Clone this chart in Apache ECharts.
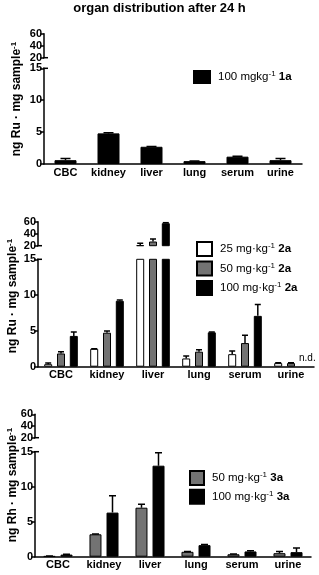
<!DOCTYPE html>
<html><head><meta charset="utf-8">
<script src="https://cdn.jsdelivr.net/npm/echarts@6/dist/echarts.min.js"></script>
<style>html,body{margin:0;padding:0;background:#fff}#c{width:319px;height:575px}</style>
</head><body><div id="c"></div>
<script>
// ---------- data ----------
const categories = ['CBC', 'kidney', 'liver', 'lung', 'serum', 'urine'];
const upperTicks = [20, 40, 60];
const lowerTicks = [0, 5, 10, 15];

// panel 1: Ru, compound 1a
const p1_100_mean = [0.6, 4.8, 2.7, 0.45, 1.15, 0.6];
const p1_100_sd   = [0.25, 0.1, 0.05, 0.03, 0.08, 0.25];

// panel 2: Ru, compound 2a
const p2_25_mean  = [0.35, 2.5, 21, 1.15, 1.75, 0.5];
const p2_25_sd    = [0.15, 0.02, 3, 0.35, 0.45, 0.05];
const p2_50_mean  = [1.85, 4.75, 27, 2.1, 3.3, 0.5];
const p2_50_sd    = [0.25, 0.25, 4, 0.25, 1.1, 0.05];
const p2_100_mean = [4.3, 9.2, 57.5, 4.8, 7.1, null];
const p2_100_sd   = [0.55, 0.1, 1, 0.05, 1.6, null];

// panel 3: Rh, compound 3a
const p3_50_mean  = [0.08, 3.2, 7.0, 0.7, 0.35, 0.5];
const p3_50_sd    = [0.02, 0.05, 0.5, 0.05, 0.05, 0.25];
const p3_100_mean = [0.3, 6.3, 13.0, 1.65, 0.75, 0.65];
const p3_100_sd   = [0.05, 2.4, 1.85, 0.1, 0.1, 0.6];

const title = 'organ distribution after 24 h';
const yNames = ['ng Ru · mg sample', 'ng Ru · mg sample', 'ng Rh · mg sample'];
const names1 = ['100 mgkg-1 1a'];
const names2 = ['25 mg·kg-1 2a', '50 mg·kg-1 2a', '100 mg·kg-1 2a'];
const names3 = ['50 mg·kg-1 3a', '100 mg·kg-1 3a'];
const ndLabel = 'n.d.';

// ---------- layout / style ----------
const FONT = '"Liberation Sans", Arial, sans-serif';
const BLACK = '#000', GRAY = '#737373', WHITE = '#fff';

const panels = [
  { left: 44, width: 258, up: [33.7, 24], low: [68.3, 95.7], barWidth: 22, barGap: '0%', cap: 10,
    series: [{ name: names1[0], mean: p1_100_mean, sd: p1_100_sd, color: BLACK, off: 0 }] },
  { left: 38, width: 276, up: [221.7, 24], low: [259.3, 107.4], barWidth: 8, barGap: '60%', cap: 6,
    series: [
      { name: names2[0], mean: p2_25_mean, sd: p2_25_sd, color: WHITE, off: -12.8 },
      { name: names2[1], mean: p2_50_mean, sd: p2_50_sd, color: GRAY, off: 0 },
      { name: names2[2], mean: p2_100_mean, sd: p2_100_sd, color: BLACK, off: 12.8 }] },
  { left: 35, width: 276, up: [414.3, 23.4], low: [451.7, 105], barWidth: 12, barGap: '42%', cap: 7,
    series: [
      { name: names3[0], mean: p3_50_mean, sd: p3_50_sd, color: GRAY, off: -8.5 },
      { name: names3[1], mean: p3_100_mean, sd: p3_100_sd, color: BLACK, off: 8.5 }] }
];

const grid = [], xAxis = [], yAxis = [], series = [];
const axisLabelStyle = { color: '#000', fontWeight: 'bold', fontSize: 11, fontFamily: FONT };
const lineStyle = { color: '#000', width: 1.5 };

function errRender(off, capW) {
  return function (params, api) {
    const x = api.value(0), v = api.value(1), e = api.value(2);
    const p0 = api.coord([x, v]), p1 = api.coord([x, e]);
    const cx = p0[0] + off;
    const st = { stroke: '#000', lineWidth: 1.5, fill: null };
    return { type: 'group', children: [
      { type: 'line', shape: { x1: cx, y1: p0[1], x2: cx, y2: p1[1] }, style: st },
      { type: 'line', shape: { x1: cx - capW / 2, y1: p1[1], x2: cx + capW / 2, y2: p1[1] }, style: st }
    ] };
  };
}

panels.forEach((p, pi) => {
  [p.up, p.low].forEach((g, gi) => {
    const idx = grid.length;
    grid.push({ left: p.left, top: g[0], width: p.width, height: g[1] });
    xAxis.push({
      type: 'category', gridIndex: idx, data: categories, show: gi === 1,
      axisLine: { lineStyle }, axisTick: { alignWithLabel: true, length: 4, lineStyle },
      axisLabel: Object.assign({ margin: 3, interval: 0 }, axisLabelStyle)
    });
    const isUp = gi === 0;
    yAxis.push({
      type: 'value', gridIndex: idx,
      min: isUp ? upperTicks[0] : lowerTicks[0],
      max: isUp ? upperTicks[upperTicks.length - 1] : lowerTicks[lowerTicks.length - 1],
      interval: isUp ? upperTicks[1] - upperTicks[0] : lowerTicks[1] - lowerTicks[0],
      splitLine: { show: false },
      axisLine: { show: true, lineStyle }, axisTick: { show: true, length: 4, lineStyle },
      axisLabel: Object.assign({ margin: 2 }, axisLabelStyle)
    });
    p.series.forEach(s => {
      series.push({
        type: 'bar', name: s.name, xAxisIndex: idx, yAxisIndex: idx,
        data: s.mean, barWidth: p.barWidth, barGap: p.barGap, clip: true,
        itemStyle: { color: s.color, borderColor: '#000', borderWidth: 1 },
        emphasis: { disabled: true }, animation: false
      });
    });
    p.series.forEach(s => {
      const d = [];
      s.mean.forEach((m, i) => { if (m != null && s.sd[i] != null) d.push([i, m, m + s.sd[i]]); });
      series.push({
        type: 'custom', xAxisIndex: idx, yAxisIndex: idx, clip: true, silent: true,
        renderItem: errRender(s.off, p.cap), data: d, z: 3, animation: false
      });
    });
  });
});

const rich = {
  n: { fontSize: 11.5, fontFamily: FONT, color: '#000', lineHeight: 14 },
  s: { fontSize: 8, fontFamily: FONT, color: '#000', verticalAlign: 'top', lineHeight: 8 },
  b: { fontSize: 11.5, fontFamily: FONT, color: '#000', fontWeight: 'bold', lineHeight: 14 }
};
function legFmt(name) {
  const m = name.match(/^(.*?)-1 (\S+)$/);
  return '{n|' + m[1] + '}{s|-1}{n| }{b|' + m[2] + '}';
}
const legendBase = { orient: 'vertical', icon: 'rect', formatter: legFmt, selectedMode: false, padding: 0,
  textStyle: { rich, padding: [0, 0, 0, 3] } };
const legend = [
  Object.assign({}, legendBase, { data: names1, left: 193, top: 70, itemWidth: 16, itemHeight: 12 }),
  Object.assign({}, legendBase, { data: names2, left: 196, top: 241, itemWidth: 15, itemHeight: 14, itemGap: 3.5 }),
  Object.assign({}, legendBase, { data: names3, left: 189, top: 470, itemWidth: 14, itemHeight: 14, itemGap: 2.7 })
];

const chart = echarts.init(document.getElementById('c'), null, { renderer: 'canvas' });
chart.setOption({ animation: false, grid, xAxis, yAxis, series, legend });

// ---------- decorations (title, axis names, break marks, n.d.) ----------
const yNamePos = [[17, 99], [13, 296], [13, 485]];
const graphic = [{
  type: 'text', left: 'center', top: 2,
  style: { text: title, font: 'bold 13px ' + FONT, fill: '#000' }
}];
yNames.forEach((t, i) => {
  graphic.push({
    type: 'text', x: yNamePos[i][0], y: yNamePos[i][1], rotation: Math.PI / 2,
    style: { text: '{y|' + t + '}{ys|-1}', align: 'center', verticalAlign: 'middle',
      rich: { y: { fontSize: 12, fontWeight: 'bold', fontFamily: FONT, fill: '#000', lineHeight: 14 },
              ys: { fontSize: 8, fontWeight: 'bold', fontFamily: FONT, fill: '#000', verticalAlign: 'top', lineHeight: 8 } } }
  });
});
panels.forEach((p, pi) => {
  const up = pi * 2, low = pi * 2 + 1;
  const a = chart.convertToPixel({ xAxisIndex: up, yAxisIndex: up }, [0, upperTicks[0]]);
  const b = chart.convertToPixel({ xAxisIndex: low, yAxisIndex: low }, [0, lowerTicks[lowerTicks.length - 1]]);
  const ax = p.left;
  graphic.push({ type: 'line', shape: { x1: ax - 1, y1: a[1], x2: ax + 4, y2: a[1] }, style: { stroke: '#000', lineWidth: 1.5 } });
  graphic.push({ type: 'line', shape: { x1: ax - 1, y1: b[1], x2: ax + 4, y2: b[1] }, style: { stroke: '#000', lineWidth: 1.5 } });
});
const nd = chart.convertToPixel({ xAxisIndex: 3, yAxisIndex: 3 }, [5, 0]);
graphic.push({ type: 'text', x: nd[0] + 8, y: nd[1] - 3,
  style: { text: ndLabel, font: '10px ' + FONT, fill: '#000', align: 'left', verticalAlign: 'bottom' } });
chart.setOption({ graphic });
</script></body></html>
